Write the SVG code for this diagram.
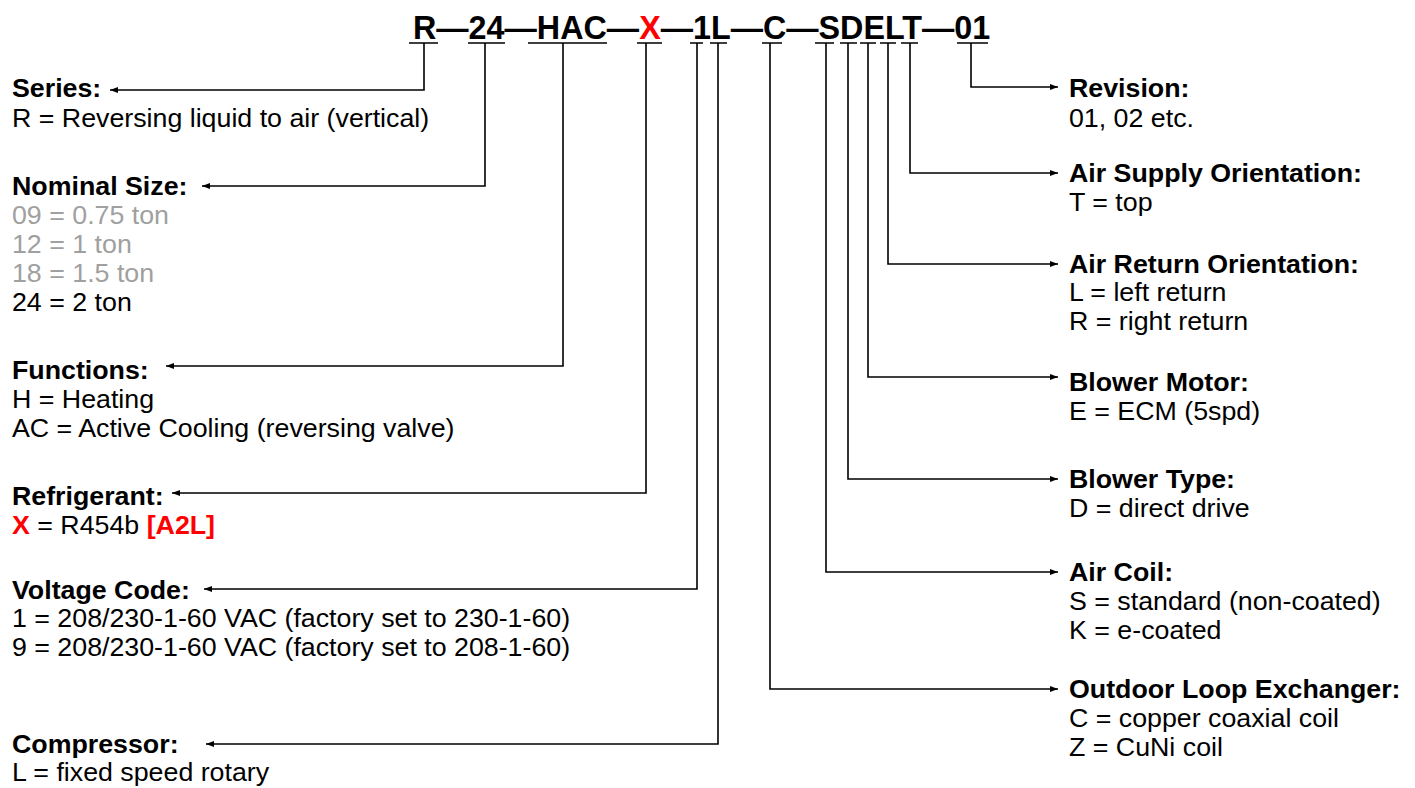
<svg xmlns="http://www.w3.org/2000/svg" width="1415" height="788" viewBox="0 0 1415 788">
<style>
text{font-family:"Liberation Sans",Arial,sans-serif;font-size:26px;fill:#000}
.h{font-weight:bold}
.g{fill:#a0a0a0}
.r{fill:#ff0000;font-weight:bold}
.code{font-size:32.3px;font-weight:bold}
.c{fill:none;stroke:#000;stroke-width:1.6}
</style>
<defs>
<marker id="ah" markerUnits="userSpaceOnUse" markerWidth="10" markerHeight="8" refX="8" refY="3" orient="auto">
<path d="M0,0 L8,3 L0,6 Z" fill="#000"/>
</marker>
</defs>
<rect width="1415" height="788" fill="#fff"/>
<g id="code">
<text class="code" x="413" y="39">R—24—HAC—<tspan fill="#ff0000">X</tspan>—1L—C—SDELT—01</text>
</g>
<g id="connectors">
<g class="c">
<path d="M409,43 H438 M468,43 H505 M528,43 H607 M637,43 H662 M690,43 H703 M710,43 H727 M762,43 H782 M815,43 H834 M840,43 H857 M860,43 H876 M880,43 H896 M901,43 H918 M957,43 H988"/>
<path d="M424,43 V90 H110" marker-end="url(#ah)"/>
<path d="M485,43 V186 H202" marker-end="url(#ah)"/>
<path d="M563,43 V366 H166" marker-end="url(#ah)"/>
<path d="M646,43 V493 H172" marker-end="url(#ah)"/>
<path d="M697,43 V589 H204" marker-end="url(#ah)"/>
<path d="M718,43 V744 H206" marker-end="url(#ah)"/>
<path d="M770,43 V689 H1058" marker-end="url(#ah)"/>
<path d="M826,43 V572 H1058" marker-end="url(#ah)"/>
<path d="M848,43 V479 H1058" marker-end="url(#ah)"/>
<path d="M868,43 V377 H1058" marker-end="url(#ah)"/>
<path d="M888,43 V264 H1058" marker-end="url(#ah)"/>
<path d="M910,43 V173 H1058" marker-end="url(#ah)"/>
<path d="M971,43 V87 H1058" marker-end="url(#ah)"/>
</g>
</g>
<g transform="matrix(1.03,0,0,1,-0.36,0)">
<g id="series">
<text class="h" x="12" y="97">Series:</text>
<text x="12" y="127">R = Reversing liquid to air (vertical)</text>
</g>
<g id="nominal-size">
<text class="h" x="12" y="195">Nominal Size:</text>
<text class="g" x="12" y="224">09 = 0.75 ton</text>
<text class="g" x="12" y="253">12 = 1 ton</text>
<text class="g" x="12" y="282">18 = 1.5 ton</text>
<text x="12" y="311">24 = 2 ton</text>
</g>
<g id="functions">
<text class="h" x="12" y="379">Functions:</text>
<text x="12" y="408">H = Heating</text>
<text x="12" y="437">AC = Active Cooling (reversing valve)</text>
</g>
<g id="refrigerant">
<text class="h" x="12" y="505">Refrigerant:</text>
<text x="12" y="534"><tspan class="r">X</tspan> = R454b <tspan class="r">[A2L]</tspan></text>
</g>
<g id="voltage-code">
<text class="h" x="12" y="599">Voltage Code:</text>
<text x="12" y="627">1 = 208/230-1-60 VAC (factory set to 230-1-60)</text>
<text x="12" y="656">9 = 208/230-1-60 VAC (factory set to 208-1-60)</text>
</g>
<g id="compressor">
<text class="h" x="12" y="753">Compressor:</text>
<text x="12" y="781">L = fixed speed rotary</text>
</g>
</g>
<g transform="matrix(1.03,0,0,1,-32.07,0)">
<g id="revision">
<text class="h" x="1069" y="97">Revision:</text>
<text x="1069" y="127">01, 02 etc.</text>
</g>
<g id="air-supply">
<text class="h" x="1069" y="182">Air Supply Orientation:</text>
<text x="1069" y="211">T = top</text>
</g>
<g id="air-return">
<text class="h" x="1069" y="273">Air Return Orientation:</text>
<text x="1069" y="301">L = left return</text>
<text x="1069" y="330">R = right return</text>
</g>
<g id="blower-motor">
<text class="h" x="1069" y="391">Blower Motor:</text>
<text x="1069" y="420">E = ECM (5spd)</text>
</g>
<g id="blower-type">
<text class="h" x="1069" y="488">Blower Type:</text>
<text x="1069" y="517">D = direct drive</text>
</g>
<g id="air-coil">
<text class="h" x="1069" y="581">Air Coil:</text>
<text x="1069" y="610">S = standard (non-coated)</text>
<text x="1069" y="639">K = e-coated</text>
</g>
<g id="outdoor-loop">
<text class="h" x="1069" y="698">Outdoor Loop Exchanger:</text>
<text x="1069" y="727">C = copper coaxial coil</text>
<text x="1069" y="756">Z = CuNi coil</text>
</g>
</g>
</svg>
